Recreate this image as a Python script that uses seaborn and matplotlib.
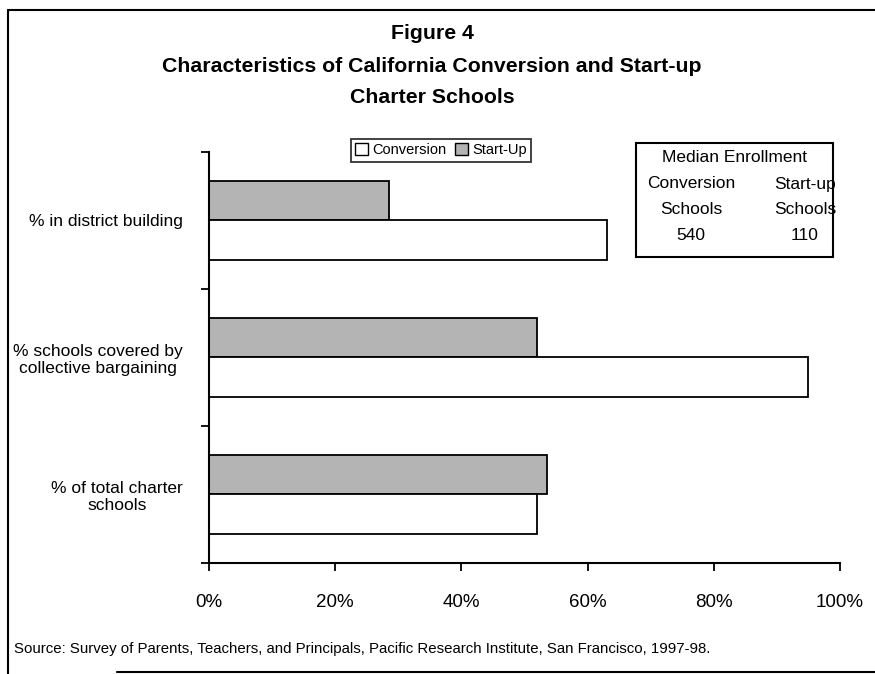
import pandas as pd
import numpy as np
import matplotlib
matplotlib.use("Agg")
import matplotlib.pyplot as plt
from matplotlib.patches import Patch, Rectangle
from matplotlib.lines import Line2D
import seaborn as sns

sns.set_theme(style="white", rc={'text.color': 'black', 'xtick.color': 'black',
                                 'ytick.color': 'black', 'axes.labelcolor': 'black'})
plt.rcParams['font.family'] = ['Liberation Sans', 'DejaVu Sans']

# values (percent)
categories = ["% in district building",
              "% schools covered by\ncollective bargaining",
              "% of total charter\nschools"]
conversion = [63, 95, 52]
startup = [28.5, 52, 53.5]
xticks = [0, 20, 40, 60, 80, 100]
enroll_groups = ["Conversion", "Start-up"]
enroll_values = [540, 110]

df = pd.DataFrame({
    'category': categories * 2,
    'value': conversion + startup,
    'type': ['Conversion'] * 3 + ['Start-Up'] * 3,
})

fig = plt.figure(figsize=(8.75, 6.74), dpi=100)
ax = fig.add_axes([0.239, 0.1647, 0.721, 0.6098])

colors = {'Conversion': 'white', 'Start-Up': '#b4b4b4'}
sns.barplot(data=df, x='value', y='category', hue='type',
            hue_order=['Start-Up', 'Conversion'], palette=colors,
            orient='h', width=0.57, edgecolor='black', linewidth=1.3,
            saturation=1, legend=False, ax=ax)

ax.set_xlim(0, 100)
ax.set_ylim(2.5, -0.5)
ax.set_xlabel('')
ax.set_ylabel('')
ax.set_xticks(xticks, [f"{t}%" for t in xticks])
ax.tick_params(axis='x', direction='out', length=6, width=1.3, pad=16.5,
               labelsize=13.5, bottom=True)
ax.set_yticks(range(len(categories)), categories)
ax.set_yticks([-0.5, 0.5, 1.5, 2.5], minor=True)
ax.tick_params(axis='y', which='major', length=0, pad=19, labelsize=12.5)
ax.tick_params(axis='y', which='minor', direction='out', length=6, width=1.3,
               left=True)
for lab in ax.get_yticklabels():
    lab.set_multialignment('center')

for side in ['top', 'right']:
    ax.spines[side].set_visible(False)
for side in ['left', 'bottom']:
    ax.spines[side].set_color('black')
    ax.spines[side].set_linewidth(1.5)

# legend
handles = [Patch(facecolor='white', edgecolor='black', label='Conversion'),
           Patch(facecolor='#b4b4b4', edgecolor='black', label='Start-Up')]
leg = fig.legend(handles=handles, loc='center', bbox_to_anchor=(0.504, 0.777),
                 ncol=2, frameon=True, fancybox=False, fontsize=10.5,
                 handlelength=0.85, handleheight=0.85, handletextpad=0.3,
                 columnspacing=0.6, borderpad=0.3, borderaxespad=0)
leg.get_frame().set_edgecolor('black')
leg.get_frame().set_linewidth(1.3)

# titles
fig.text(0.494, 0.951, "Figure 4", ha='center', va='center',
         fontsize=15.3, fontweight='bold')
fig.text(0.494, 0.901, "Characteristics of California Conversion and Start-up",
         ha='center', va='center', fontsize=15.3, fontweight='bold')
fig.text(0.494, 0.856, "Charter Schools", ha='center', va='center',
         fontsize=15.3, fontweight='bold')

# median enrollment box
fig.patches.append(Rectangle((636 / 875, 1 - 257 / 674), 197 / 875, 114 / 674,
                             transform=fig.transFigure, fill=False,
                             edgecolor='black', linewidth=1.5))
fig.text(735 / 875, 1 - 158 / 674, "Median Enrollment", ha='center', va='center',
         fontsize=12.5)
for xp, grp, val in zip([691, 805], enroll_groups, enroll_values):
    fig.text(xp / 875, 1 - 184 / 674, grp, ha='center', va='center', fontsize=12.5)
    fig.text(xp / 875, 1 - 210 / 674, "Schools", ha='center', va='center',
             fontsize=12.5)
    fig.text(xp / 875, 1 - 236 / 674, str(val), ha='center', va='center',
             fontsize=12.5)

fig.text(14 / 875, 1 - 649 / 674,
         "Source: Survey of Parents, Teachers, and Principals, Pacific Research "
         "Institute, San Francisco, 1997-98.",
         ha='left', va='center', fontsize=10.8)

# outer frame of the figure
fig.add_artist(Line2D([8 / 875, 8 / 875], [0, 1 - 10 / 674], color='black',
                      linewidth=1.5, transform=fig.transFigure))
fig.add_artist(Line2D([8 / 875, 1], [1 - 10 / 674, 1 - 10 / 674], color='black',
                      linewidth=1.5, transform=fig.transFigure))
fig.add_artist(Line2D([117 / 875, 1], [1 - 672 / 674, 1 - 672 / 674],
                      color='black', linewidth=1.5, transform=fig.transFigure))

fig.savefig("out.png", dpi=100)
